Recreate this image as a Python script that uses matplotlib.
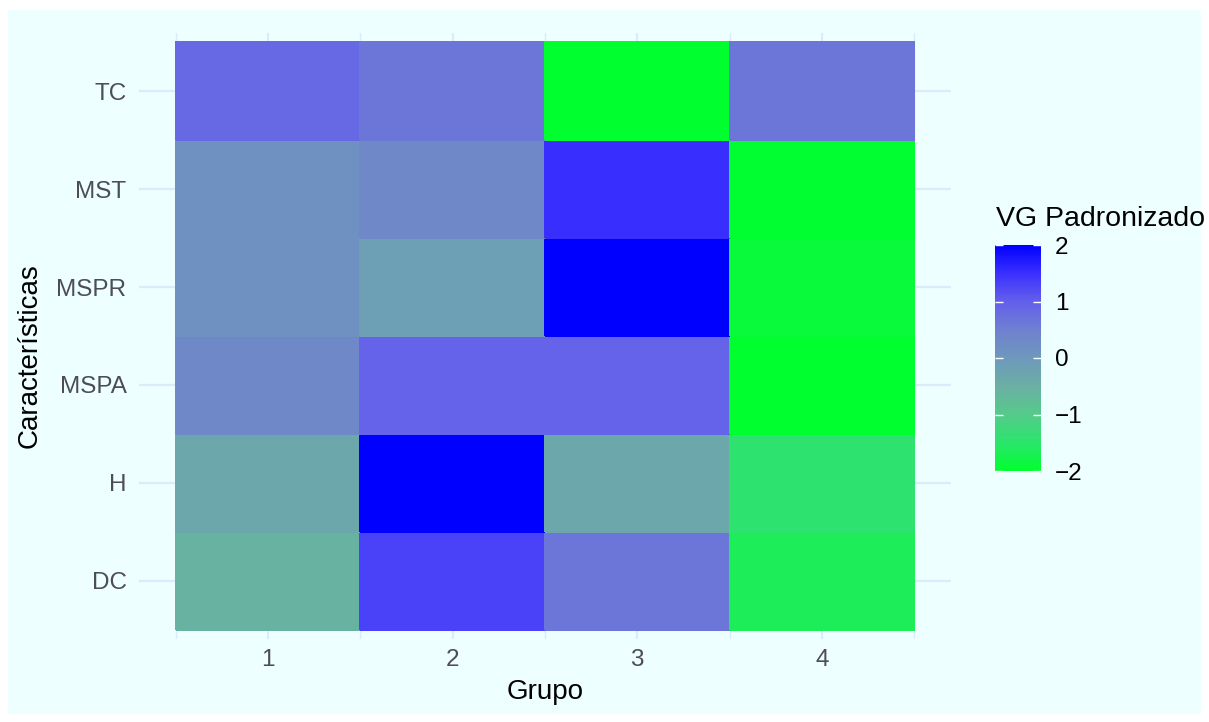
import numpy as np
import matplotlib
matplotlib.use("Agg")
import matplotlib.pyplot as plt
from matplotlib.colors import LinearSegmentedColormap
from matplotlib.patches import Rectangle

plt.rcParams['font.family'] = ['Liberation Sans', 'DejaVu Sans']

# data
grupos = [1, 2, 3, 4]
caracteristicas = ['DC', 'H', 'MSPA', 'MSPR', 'MST', 'TC']   # bottom -> top
vg_dc = [-0.55, 1.30, 0.65, -1.65]
vg_h = [-0.35, 2.00, -0.35, -1.45]
vg_mspa = [0.30, 0.95, 0.95, -2.00]
vg_mspr = [0.15, -0.15, 2.00, -1.90]
vg_mst = [0.15, 0.30, 1.50, -1.98]
vg_tc = [0.85, 0.65, -2.00, 0.65]

valores = np.array([vg_dc, vg_h, vg_mspa, vg_mspr, vg_mst, vg_tc])

W, H = 1209, 722
bg = '#EEFFFF'
grid_col = '#DCEBFB'

# green -> grey-blue -> blue gradient (like scale_fill_gradient2)
cmap = LinearSegmentedColormap.from_list('vg', [
    (0.000, '#00FF2E'),
    (0.125, '#2AE56C'),
    (0.250, '#55CA8A'),
    (0.375, '#6BAFA4'),
    (0.500, '#6E98BC'),
    (0.625, '#6F80D0'),
    (0.750, '#6460EC'),
    (0.875, '#3A30FF'),
    (1.000, '#0000FF'),
])

fig = plt.figure(figsize=(W / 100, H / 100), dpi=100)
fig.patch.set_facecolor('white')
fig.patches.append(Rectangle((8 / W, 8 / H), 1 - 16 / W, 1 - 18 / H,
                             transform=fig.transFigure, facecolor=bg,
                             edgecolor='none', zorder=-10))

ax = fig.add_axes([139 / W, 1 - 639 / H, (951 - 139) / W, (639 - 33) / H])
ax.set_facecolor('none')

xe = np.arange(len(grupos) + 1) + 0.5
ye = np.arange(len(caracteristicas) + 1) + 0.5
mesh = ax.pcolormesh(xe, ye, valores, cmap=cmap, vmin=-2, vmax=2,
                     edgecolors='face', linewidth=0.3, zorder=2)

ax.set_xlim(0.3, 4.7)
ax.set_ylim(0.408, 6.592)
ax.set_xticks(grupos)
ax.set_xticks(xe, minor=True)
ax.set_yticks(np.arange(1, len(caracteristicas) + 1))
ax.set_yticklabels(caracteristicas)
ax.grid(True, which='major', color=grid_col, linewidth=1.6, zorder=0)
ax.grid(True, which='minor', axis='x', color=grid_col, linewidth=1.0, zorder=0)
ax.tick_params(which='both', length=0, labelsize=17.5, labelcolor='#4D4D55')
ax.tick_params(axis='y', pad=9)
ax.tick_params(axis='x', pad=7)
for s in ax.spines.values():
    s.set_visible(False)

ax.set_xlabel('Grupo', fontsize=20, color='black', labelpad=6)
ax.set_ylabel('Características', fontsize=20, color='black')
ax.yaxis.set_label_coords(-0.119, 0.467)

# legend colorbar
cax = fig.add_axes([995 / W, 1 - 471 / H, 46 / W, 226 / H])
cb = fig.colorbar(mesh, cax=cax, ticks=[-2, -1, 0, 1, 2])
cb.outline.set_visible(False)
cax.tick_params(direction='in', color='white', length=6, width=1,
                left=True, right=True, labelsize=17.5, labelcolor='black', pad=10)
fig.text(996 / W, 1 - 226 / H, 'VG Padronizado', fontsize=20.5, color='black',
         ha='left', va='baseline')

fig.savefig('out.png', dpi=100, facecolor=fig.get_facecolor())
